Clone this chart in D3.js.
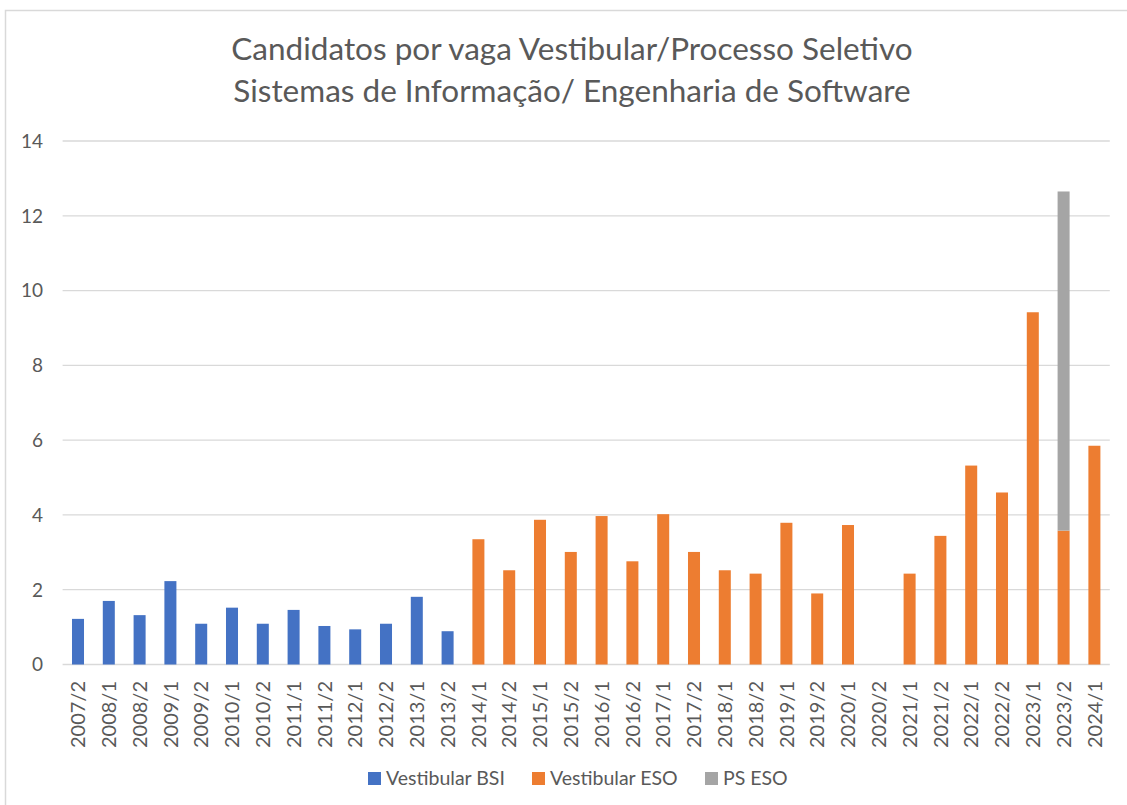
<!DOCTYPE html>
<html>
<head>
<meta charset="utf-8">
<script src="https://cdn.jsdelivr.net/npm/d3@7"></script>
<style>
  html, body { margin: 0; padding: 0; background: #fff; }
  svg { display: block; }
  text { font-family: Lato, "Open Sans", sans-serif; fill: #595959; }
</style>
</head>
<body>
<svg id="chart" width="1127" height="805"></svg>
<script>
const categories = ["2007/2","2008/1","2008/2","2009/1","2009/2","2010/1","2010/2","2011/1","2011/2","2012/1","2012/2","2013/1","2013/2","2014/1","2014/2","2015/1","2015/2","2016/1","2016/2","2017/1","2017/2","2018/1","2018/2","2019/1","2019/2","2020/1","2020/2","2021/1","2021/2","2022/1","2022/2","2023/1","2023/2","2024/1"];
const vestibularBSI = [1.22,1.70,1.32,2.23,1.09,1.52,1.09,1.46,1.03,0.94,1.09,1.81,0.89,0,0,0,0,0,0,0,0,0,0,0,0,0,0,0,0,0,0,0,0,0];
const vestibularESO = [0,0,0,0,0,0,0,0,0,0,0,0,0,3.35,2.52,3.87,3.01,3.97,2.76,4.02,3.01,2.52,2.43,3.79,1.90,3.73,0,2.43,3.44,5.32,4.60,9.42,3.58,5.85];
const psESO = [0,0,0,0,0,0,0,0,0,0,0,0,0,0,0,0,0,0,0,0,0,0,0,0,0,0,0,0,0,0,0,0,9.07,0];
const seriesNames = ["Vestibular BSI","Vestibular ESO","PS ESO"];
const seriesColors = ["#4472C4","#ED7D31","#A5A5A5"];
const yTicks = [0,2,4,6,8,10,12,14];
const titleLines = ["Candidatos por vaga Vestibular/Processo Seletivo","Sistemas de Informação/ Engenharia de Software"];

const svg = d3.select("#chart");

// chart border
svg.append("rect").attr("x",5.5).attr("y",10.5).attr("width",1140).attr("height",820)
  .attr("fill","none").attr("stroke","#d9d9d9").attr("stroke-width",1.5);

const x = d3.scaleBand().domain(categories).range([62.6, 1109.8]).paddingInner(0.61).paddingOuter(0.305);
const y = d3.scaleLinear().domain([0,14]).range([664.5, 141]);

// gridlines
svg.append("g").selectAll("line").data(yTicks).join("line")
  .attr("x1",62.6).attr("x2",1109.8)
  .attr("y1",d=>y(d)).attr("y2",d=>y(d))
  .attr("stroke","#d9d9d9").attr("stroke-width",1.3);

// y tick labels
svg.append("g").selectAll("text").data(yTicks).join("text")
  .attr("x",43).attr("y",d=>y(d)).attr("dy","0.36em")
  .attr("text-anchor","end").attr("font-size",19).text(d=>d);

// stacked bars
const table = categories.map((c,i)=>({cat:c, s0:vestibularBSI[i], s1:vestibularESO[i], s2:psESO[i]}));
const stack = d3.stack().keys(["s0","s1","s2"])(table);
svg.append("g").selectAll("g").data(stack).join("g")
  .attr("fill",(d,i)=>seriesColors[i])
  .selectAll("rect").data(d=>d.filter(p=>p[1]-p[0]>0)).join("rect")
  .attr("x",d=>x(d.data.cat)).attr("width",x.bandwidth())
  .attr("y",d=>y(d[1])).attr("height",d=>y(d[0])-y(d[1]));

// x axis labels
svg.append("g").selectAll("text").data(categories).join("text")
  .attr("transform",d=>`translate(${x(d)+x.bandwidth()/2},681) rotate(-90)`)
  .attr("text-anchor","end").attr("dy","0.36em").attr("font-size",20).text(d=>d);

// title
svg.append("g").selectAll("text").data(titleLines).join("text")
  .attr("x",572).attr("y",(d,i)=>60+i*42).attr("text-anchor","middle")
  .attr("font-size",31.5).text(d=>d);

// legend
const legendX = [368,532,705];
const lg = svg.append("g").selectAll("g").data(seriesNames).join("g")
  .attr("transform",(d,i)=>`translate(${legendX[i]},0)`);
lg.append("rect").attr("x",0).attr("y",772).attr("width",13).attr("height",13).attr("fill",(d,i)=>seriesColors[i]);
lg.append("text").attr("x",18).attr("y",785).attr("font-size",19.5).text(d=>d);
</script>
</body>
</html>
